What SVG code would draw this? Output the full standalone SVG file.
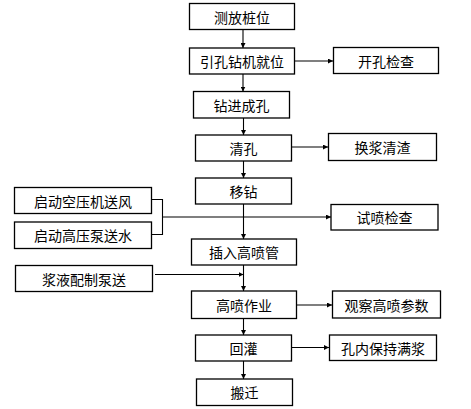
<svg xmlns="http://www.w3.org/2000/svg" width="471" height="409" viewBox="0 0 471 409">
<defs>
<marker id="ah" viewBox="0 0 10 10" refX="10" refY="5" markerWidth="5" markerHeight="5" markerUnits="userSpaceOnUse" orient="auto">
<path d="M0,0 L10,5 L0,10 z" fill="#000"/>
</marker>
</defs>
<style>
rect{fill:#fff;stroke:#000;stroke-width:1.3}
text{font-family:"Noto Sans CJK SC","Liberation Sans",sans-serif;font-size:14px;fill:#000;text-anchor:middle;dominant-baseline:central}
.c line,.c polyline{stroke:#000;stroke-width:1.1;fill:none}
.a{marker-end:url(#ah)}
</style>
<rect x="0" y="0" width="471" height="409" style="fill:#fff;stroke:none"/>
<g class="c">
<line class="a" x1="243" y1="29.5" x2="243" y2="48"/>
<line class="a" x1="294.5" y1="61" x2="333" y2="61"/>
<line class="a" x1="243" y1="74" x2="243" y2="91.5"/>
<line class="a" x1="243.5" y1="118" x2="243.5" y2="135"/>
<line class="a" x1="292" y1="147" x2="328" y2="147"/>
<line class="a" x1="243.5" y1="161" x2="243.5" y2="178"/>
<line class="a" x1="243.5" y1="204" x2="243.5" y2="239"/>
<polyline points="152,199.5 162.5,199.5 162.5,234.5 152,234.5"/>
<line class="a" x1="162.5" y1="217" x2="331" y2="217"/>
<line class="a" x1="243.5" y1="265" x2="243.5" y2="291"/>
<line class="a" x1="155" y1="274.5" x2="243.5" y2="274.5"/>
<line class="a" x1="296.5" y1="305" x2="332" y2="305"/>
<line class="a" x1="243.5" y1="318.5" x2="243.5" y2="335"/>
<line class="a" x1="291.5" y1="347.5" x2="329" y2="347.5"/>
<line class="a" x1="243.5" y1="361" x2="243.5" y2="379"/>
</g>
<g id="n1"><rect x="189.5" y="3.5" width="105" height="26"/><text x="242" y="16.5">测放桩位</text></g>
<g id="n2"><rect x="189.5" y="48" width="105" height="26"/><text x="242" y="61">引孔钻机就位</text></g>
<g id="n3"><rect x="333.5" y="47.5" width="105" height="26"/><text x="386" y="60.5">开孔检查</text></g>
<g id="n4"><rect x="193.5" y="91.5" width="96" height="26.5"/><text x="241.5" y="104.5">钻进成孔</text></g>
<g id="n5"><rect x="195.5" y="135" width="96" height="26"/><text x="243.5" y="148">清孔</text></g>
<g id="n6"><rect x="328.5" y="133.5" width="108" height="27"/><text x="382.5" y="147">换浆清渣</text></g>
<g id="n7"><rect x="195.5" y="178" width="96" height="26"/><text x="243.5" y="191">移钻</text></g>
<g id="n8"><rect x="14.5" y="187.5" width="137" height="26"/><text x="83" y="200.5">启动空压机送风</text></g>
<g id="n9"><rect x="14.5" y="222" width="137" height="26.5"/><text x="83" y="235">启动高压泵送水</text></g>
<g id="n10"><rect x="331" y="204.5" width="107" height="25.5"/><text x="384.5" y="217">试喷检查</text></g>
<g id="n11"><rect x="191.5" y="239" width="105" height="26"/><text x="244" y="252">插入高喷管</text></g>
<g id="n12"><rect x="15.5" y="265.5" width="137" height="26"/><text x="84" y="278.5">浆液配制泵送</text></g>
<g id="n13"><rect x="191.5" y="291" width="105" height="27.5"/><text x="244" y="304.5">高喷作业</text></g>
<g id="n14"><rect x="332.5" y="291" width="108" height="27"/><text x="386.5" y="304.5">观察高喷参数</text></g>
<g id="n15"><rect x="195.5" y="335" width="96" height="26"/><text x="243.5" y="348">回灌</text></g>
<g id="n16"><rect x="329.5" y="335" width="107" height="25.5"/><text x="383" y="347.5">孔内保持满浆</text></g>
<g id="n17"><rect x="196.5" y="379" width="96" height="26.5"/><text x="244.5" y="392">搬迁</text></g>
</svg>
